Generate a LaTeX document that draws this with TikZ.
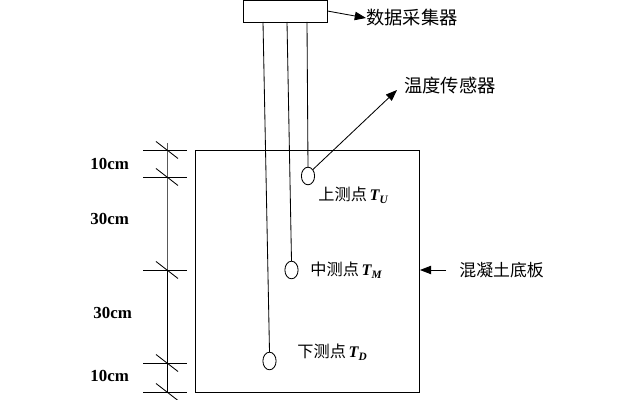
\documentclass[tikz,border=0pt]{standalone}
\usepackage{fontspec}
\newfontfamily\cjk{Noto Sans CJK SC}
\newfontfamily\dimfont{Liberation Serif}
\usetikzlibrary{arrows.meta,shapes.geometric}
\tikzset{
  sensor/.style={draw,ellipse,minimum width=0.33cm,minimum height=0.44cm,inner sep=0pt},
  lab/.style={anchor=west,inner sep=0pt,font=\cjk\fontsize{11.5}{13}\selectfont},
  dimlab/.style={anchor=west,inner sep=0pt,font=\dimfont\bfseries\fontsize{12}{14}\selectfont},
  pointer/.style={-{Triangle[length=8pt,width=6pt]}}
}
\newcommand{\tvar}[1]{{\dimfont\bfseries\itshape T\textsubscript{#1}}}
\begin{document}
\begin{tikzpicture}[x=0.025cm,y=-0.025cm,line width=0.6pt]
\useasboundingbox (0,0) rectangle (640,400);
%LOGGER
\node[draw,minimum width=2.1cm,minimum height=0.55cm,inner sep=0pt] (logger) at (285,11) {};
\node[lab,font=\cjk\fontsize{13}{15}\selectfont] (loggerlab) at (366,18) {数据采集器};
\draw[pointer] (logger.east) -- (loggerlab.west);
%SLAB
\node[draw,minimum width=5.6cm,minimum height=6.05cm,inner sep=0pt] (slab) at (307.5,271) {};
\node[lab,font=\cjk\fontsize{12}{14}\selectfont] (slablab) at (459,270) {混凝土底板};
\coordinate (sa) at (446,270);
\draw[pointer] (sa) -- (slab.east |- sa);
%SENSORS
\node[sensor] (su) at (308,176) {};
\node[sensor] (sm) at (291.5,270) {};
\node[sensor] (sd) at (269.5,361) {};
\coordinate (wu) at (307,22);
\coordinate (wm) at (287,22);
\coordinate (wd) at (263,22);
\draw (wu) -- (su.north);
\draw (wm) -- (sm.north);
\draw (wd) -- (sd.north);
\node[lab] (lu) at (318,195) {上测点\,\tvar{U}};
\node[lab] (lm) at (310,270) {中测点\,\tvar{M}};
\node[lab] (ld) at (297,352) {下测点\,\tvar{D}};
\node[lab,font=\cjk\fontsize{13}{15}\selectfont] (senslab) at (404,86) {温度传感器};
\coordinate (st) at (397,90);
\draw[pointer] (su.north east) -- (st);
%DIMENSIONS
\foreach \y [count=\i] in {150,177,270,363,392}{
  \coordinate (d\i) at (167,\y);
  \draw (143,\y) -- (187,\y);
  \draw (156,\y-8.5) -- (178,\y+8.5);
}
\draw (167,143) -- (d1) -- (d5);
\node[dimlab] (h1) at (90,164) {10cm};
\node[dimlab] (h2) at (90,219) {30cm};
\node[dimlab] (h3) at (93,313) {30cm};
\node[dimlab] (h4) at (90,376) {10cm};
\end{tikzpicture}
\end{document}
